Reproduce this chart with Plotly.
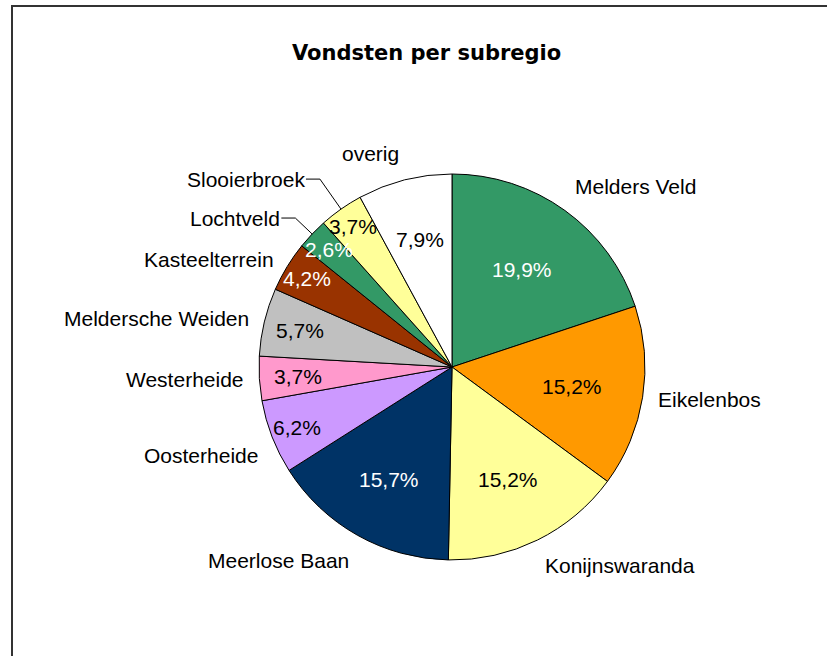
import math
import plotly.graph_objects as go

# ---- data ----
categories = ["Melders Veld", "Eikelenbos", "Konijnswaranda", "Meerlose Baan",
              "Oosterheide", "Westerheide", "Meldersche Weiden", "Kasteelterrein",
              "Lochtveld", "Slooierbroek", "overig"]
values = [19.9, 15.2, 15.2, 15.7, 6.2, 3.7, 5.7, 4.2, 2.6, 3.7, 7.9]
title_text = "Vondsten per subregio"

# ---- styles / layout ----
colors = ["#339966", "#FF9900", "#FFFF99", "#003366", "#CC99FF", "#FF99CC",
          "#C0C0C0", "#993300", "#339966", "#FFFF99", "#FFFFFF"]
pct_colors = ["white", "black", "black", "white", "black", "black",
              "black", "white", "white", "black", "black"]
pct_radius = [0.62, 0.63, 0.65, 0.67, 0.86, 0.80, 0.81, 0.88, 0.88, 0.89, 0.68]
leader_bend = [None, None, None, None, None, None, None, None, 1.12, 1.19, None]

W, H = 827, 656
CX, CY, R = 452, 367, 193
FONT = "Liberation Sans, Arial, sans-serif"
FS = 21


def px(x):
    return x / W


def py(y):
    return 1 - y / H


fig = go.Figure()
fig.add_trace(go.Pie(
    labels=categories, values=values, sort=False, direction="clockwise",
    rotation=0, textinfo="none", hoverinfo="skip",
    marker=dict(colors=colors, line=dict(color="black", width=1)),
    domain=dict(x=[px(CX - R), px(CX + R)], y=[py(CY + R), py(CY - R)]),
    showlegend=False,
))

annotations = []
shapes = []
total = sum(values)
cum = 0.0
for i, (cat, v) in enumerate(zip(categories, values)):
    mid = (cum + v / 2) / total * 2 * math.pi
    cum += v
    s, c = math.sin(mid), math.cos(mid)
    # percentage label
    r = R * pct_radius[i]
    annotations.append(dict(
        x=px(CX + r * s), y=py(CY - r * c), xref="paper", yref="paper",
        text=f"{v:.1f}".replace(".", ",") + "%", showarrow=False,
        xanchor="center", yanchor="middle",
        font=dict(family=FONT, size=FS, color=pct_colors[i])))
    # category label
    if leader_bend[i] is None:
        rl = R * 1.07
        ax = CX + rl * s
        ay = CY - rl * c
        xa = "left" if s > 0.2 else ("right" if s < -0.2 else "center")
        ya = "bottom" if c > 0.6 else ("top" if c < -0.3 else "middle")
        annotations.append(dict(
            x=px(ax), y=py(ay), xref="paper", yref="paper", text=cat,
            showarrow=False, xanchor=xa, yanchor=ya,
            font=dict(family=FONT, size=FS, color="black")))
    else:
        rb = R * leader_bend[i]
        bx, by = CX + rb * s, CY - rb * c
        ex, ey = CX + R * s, CY - R * c
        lx = bx - 14
        shapes.append(dict(
            type="path", xref="paper", yref="paper",
            path=f"M {px(ex)} {py(ey)} L {px(bx)} {py(by)} L {px(lx)} {py(by)}",
            line=dict(color="black", width=1)))
        annotations.append(dict(
            x=px(lx + 1), y=py(by), xref="paper", yref="paper", text=cat,
            showarrow=False, xanchor="right", yanchor="middle",
            font=dict(family=FONT, size=FS, color="black")))

annotations.append(dict(
    x=px(426), y=py(53), xref="paper", yref="paper",
    text="<b>" + title_text + "</b>", showarrow=False,
    xanchor="center", yanchor="middle",
    font=dict(family="DejaVu Sans, Verdana, sans-serif", size=21, color="black")))

# outer frame (only top and left edges visible in the crop)
shapes.append(dict(type="path", xref="paper", yref="paper",
                   path=f"M {px(12)} -0.05 L {px(12)} {py(6)} L 1.05 {py(6)}",
                   line=dict(color="#333333", width=2)))

fig.update_layout(
    width=W, height=H, margin=dict(l=0, r=0, t=0, b=0),
    paper_bgcolor="white", plot_bgcolor="white",
    annotations=annotations, shapes=shapes,
)

fig.write_html("out.html", config={"displayModeBar": False},
               post_script="document.body.style.margin='0';")
